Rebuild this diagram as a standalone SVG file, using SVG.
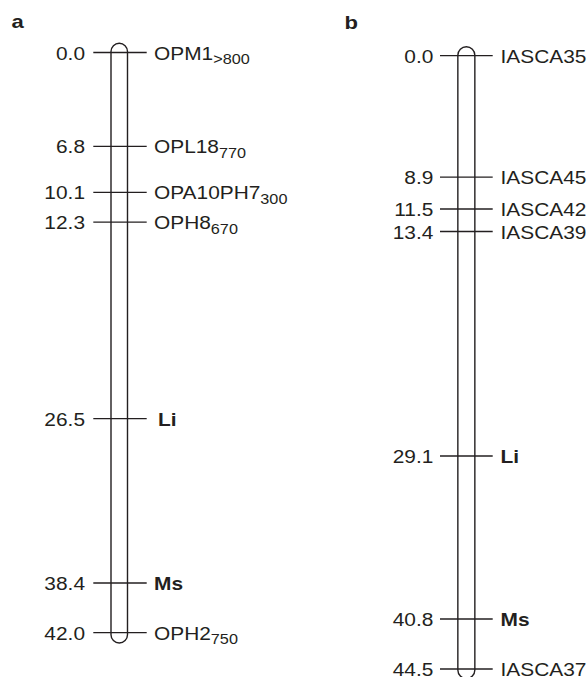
<svg xmlns="http://www.w3.org/2000/svg" width="587" height="677" viewBox="0 0 587 677">
<style>
text{font-family:"Liberation Sans",Arial,Helvetica,sans-serif;fill:#231f20;font-size:18px}
.b{font-weight:bold}
.sub{font-size:14px}
.num{text-anchor:end}
.tick{stroke:#231f20;stroke-width:1.3;fill:none}
.chr{stroke:#231f20;stroke-width:1.4;fill:none}
.panel{font-weight:bold;font-size:19px}
</style>
<rect width="587" height="677" fill="#ffffff"/>
<g id="panel-a">
  <text class="panel" transform="matrix(1.16 0 0 1 11.5 28)">a</text>
  <g id="chromosome-a"><path class="chr" d="M111,51.5 A8.25,8.25 0 0 1 127.5,51.5 V634.7 A8.25,8.25 0 0 1 111,634.7 Z"/></g>
  <g id="a-OPM1"><line class="tick" x1="93.3" y1="52.5" x2="146.7" y2="52.5"/>
    <text class="num" transform="matrix(1.16 0 0 1 85 59.5)">0.0</text>
    <text transform="matrix(1.16 0 0 1 154 59.5)">OPM1<tspan class="sub" dy="4.5">&gt;800</tspan></text></g>
  <g id="a-OPL18"><line class="tick" x1="93.3" y1="146.4" x2="146.7" y2="146.4"/>
    <text class="num" transform="matrix(1.16 0 0 1 85 153.4)">6.8</text>
    <text transform="matrix(1.16 0 0 1 154 153.4)">OPL18<tspan class="sub" dy="4.5">770</tspan></text></g>
  <g id="a-OPA10PH7"><line class="tick" x1="93.3" y1="192.3" x2="146.7" y2="192.3"/>
    <text class="num" transform="matrix(1.16 0 0 1 85 199.3)">10.1</text>
    <text transform="matrix(1.16 0 0 1 154 199.3)">OPA10PH7<tspan class="sub" dy="4.5">300</tspan></text></g>
  <g id="a-OPH8"><line class="tick" x1="93.3" y1="222.2" x2="146.7" y2="222.2"/>
    <text class="num" transform="matrix(1.16 0 0 1 85 229.2)">12.3</text>
    <text transform="matrix(1.16 0 0 1 154 229.2)">OPH8<tspan class="sub" dy="4.5">670</tspan></text></g>
  <g id="a-Li"><line class="tick" x1="93.3" y1="418.7" x2="146.7" y2="418.7"/>
    <text class="num" transform="matrix(1.16 0 0 1 85 425.7)">26.5</text>
    <text class="b" transform="matrix(1.16 0 0 1 158 425.7)">Li</text></g>
  <g id="a-Ms"><line class="tick" x1="93.3" y1="583" x2="146.7" y2="583"/>
    <text class="num" transform="matrix(1.16 0 0 1 85 590)">38.4</text>
    <text class="b" transform="matrix(1.16 0 0 1 154 590)">Ms</text></g>
  <g id="a-OPH2"><line class="tick" x1="93.3" y1="632.7" x2="146.7" y2="632.7"/>
    <text class="num" transform="matrix(1.16 0 0 1 85 639.7)">42.0</text>
    <text transform="matrix(1.16 0 0 1 154 639.7)">OPH2<tspan class="sub" dy="4.5">750</tspan></text></g>
</g>
<g id="panel-b">
  <text class="panel" transform="matrix(1.16 0 0 1 344.5 29)">b</text>
  <g id="chromosome-b"><path class="chr" d="M457.85,55.2 A8.5,8.5 0 0 1 474.85,55.2 V670 A8.5,8.5 0 0 1 457.85,670 Z"/></g>
  <g id="b-IASCA35"><line class="tick" x1="440" y1="55.7" x2="492.7" y2="55.7"/>
    <text class="num" transform="matrix(1.16 0 0 1 433.3 62.7)">0.0</text>
    <text transform="matrix(1.16 0 0 1 500.5 62.7)">IASCA35</text></g>
  <g id="b-IASCA45"><line class="tick" x1="440" y1="177.2" x2="492.7" y2="177.2"/>
    <text class="num" transform="matrix(1.16 0 0 1 433.3 184.2)">8.9</text>
    <text transform="matrix(1.16 0 0 1 500.5 184.2)">IASCA45</text></g>
  <g id="b-IASCA42"><line class="tick" x1="440" y1="209" x2="492.7" y2="209"/>
    <text class="num" transform="matrix(1.16 0 0 1 433.3 216)">11.5</text>
    <text transform="matrix(1.16 0 0 1 500.5 216)">IASCA42</text></g>
  <g id="b-IASCA39"><line class="tick" x1="440" y1="231.5" x2="492.7" y2="231.5"/>
    <text class="num" transform="matrix(1.16 0 0 1 433.3 238.5)">13.4</text>
    <text transform="matrix(1.16 0 0 1 500.5 238.5)">IASCA39</text></g>
  <g id="b-Li"><line class="tick" x1="440" y1="456" x2="492.7" y2="456"/>
    <text class="num" transform="matrix(1.16 0 0 1 433.3 463)">29.1</text>
    <text class="b" transform="matrix(1.16 0 0 1 500.5 463)">Li</text></g>
  <g id="b-Ms"><line class="tick" x1="440" y1="619" x2="492.7" y2="619"/>
    <text class="num" transform="matrix(1.16 0 0 1 433.3 626)">40.8</text>
    <text class="b" transform="matrix(1.16 0 0 1 500.5 626)">Ms</text></g>
  <g id="b-IASCA37"><line class="tick" x1="440" y1="669" x2="492.7" y2="669"/>
    <text class="num" transform="matrix(1.16 0 0 1 433.3 676)">44.5</text>
    <text transform="matrix(1.16 0 0 1 500.5 676)">IASCA37</text></g>
</g>
<g id="connectors"/>
</svg>
